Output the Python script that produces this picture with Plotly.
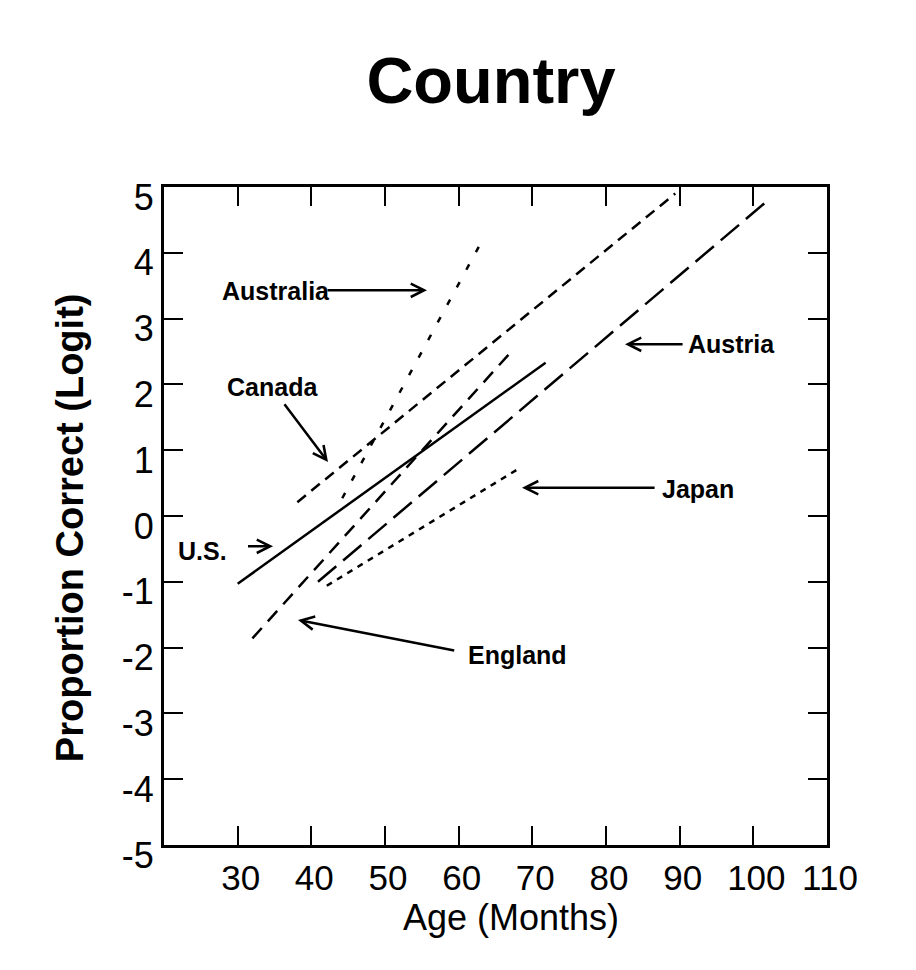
import plotly.graph_objects as go

# ---- data ----
countries = ["Australia", "Canada", "U.S.", "England", "Austria", "Japan"]
age_start = [44.2, 38.1, 30.0, 32.0, 40.9, 42.1]
age_end = [63.6, 89.4, 71.8, 67.0, 101.7, 68.0]
logit_start = [0.27, 0.21, -1.03, -1.86, -1.00, -1.06]
logit_end = [4.27, 4.90, 2.33, 2.48, 4.77, 0.71]

# label text position (data coords), arrow tail and arrow head
label_x = [35.2, 34.66, 25.29, 68.05, 97.1, 92.49]
label_y = [3.42, 1.96, -0.53, -2.11, 2.61, 0.41]
arrow_tail_x = [42.0, 36.2, 31.2, 59.6, 90.6, 86.8]
arrow_tail_y = [3.43, 1.72, -0.46, -2.05, 2.61, 0.43]
arrow_head_x = [55.7, 42.26, 34.80, 38.19, 82.58, 68.6]
arrow_head_y = [3.43, 0.82, -0.46, -1.58, 2.61, 0.43]

x_ticks = [30, 40, 50, 60, 70, 80, 90, 100, 110]
y_ticks = [-5, -4, -3, -2, -1, 0, 1, 2, 3, 4, 5]

dashes = {
    "Australia": "6px,14px",
    "Canada": "11px,7px",
    "U.S.": "solid",
    "England": "14px,9px",
    "Austria": "24px,9px",
    "Japan": "6px,6px",
}

FONT = "Liberation Sans, Arial, sans-serif"

fig = go.Figure()
for i, c in enumerate(countries):
    fig.add_trace(go.Scatter(
        x=[age_start[i], age_end[i]],
        y=[logit_start[i], logit_end[i]],
        mode="lines",
        name=c,
        line=dict(color="black", width=2.5, dash=dashes[c]),
        showlegend=False,
    ))

annotations = []
for i, c in enumerate(countries):
    annotations.append(dict(
        x=label_x[i], y=label_y[i], xref="x", yref="y",
        text="<b>%s</b>" % c, showarrow=False,
        font=dict(family=FONT, size=25, color="black"),
        xanchor="center", yanchor="middle",
    ))
    annotations.append(dict(
        x=arrow_head_x[i], y=arrow_head_y[i], xref="x", yref="y",
        ax=arrow_tail_x[i], ay=arrow_tail_y[i], axref="x", ayref="y",
        text="", showarrow=True, arrowhead=5, arrowsize=1.05,
        arrowwidth=2.5, arrowcolor="black", standoff=0, startstandoff=0,
    ))

# axis titles
annotations.append(dict(
    x=-0.1418, y=0.483, xref="paper", yref="paper",
    text="<b>Proportion Correct (Logit)</b>", textangle=-90, showarrow=False,
    font=dict(family=FONT, size=38, color="black"),
    xanchor="center", yanchor="middle",
))
annotations.append(dict(
    x=0.5234, y=-0.110, xref="paper", yref="paper",
    text="Age (Months)", showarrow=False,
    font=dict(family=FONT, size=36, color="black"),
    xanchor="center", yanchor="middle",
))

# page body has an 8px margin, so the figure is sized to fit inside it
fig.update_layout(
    width=900, height=954,
    margin=dict(l=156, r=81, t=179, b=117),
    paper_bgcolor="white", plot_bgcolor="white",
    title=dict(text="<b>Country</b>", x=483 / 900, xanchor="center",
               y=1 - 72 / 954, yanchor="middle", yref="container",
               font=dict(family=FONT, size=65, color="black")),
    annotations=annotations,
)
fig.update_xaxes(
    range=[20, 110], tickvals=x_ticks, ticktext=[str(v) for v in x_ticks],
    ticks="inside", ticklen=19, tickwidth=2, tickcolor="black",
    showline=True, linecolor="black", linewidth=3, mirror="ticks",
    showgrid=False, zeroline=False,
    tickfont=dict(family=FONT, size=35, color="black"),
    ticklabelshift=3,
)
fig.update_yaxes(
    range=[-5, 5], tickvals=y_ticks, ticktext=[str(v) for v in y_ticks],
    ticks="inside", ticklen=19, tickwidth=2, tickcolor="black",
    showline=True, linecolor="black", linewidth=3, mirror="ticks",
    showgrid=False, zeroline=False,
    tickfont=dict(family=FONT, size=36, color="black"),
    ticklabelshift=10,
)

fig.write_html("out.html")
